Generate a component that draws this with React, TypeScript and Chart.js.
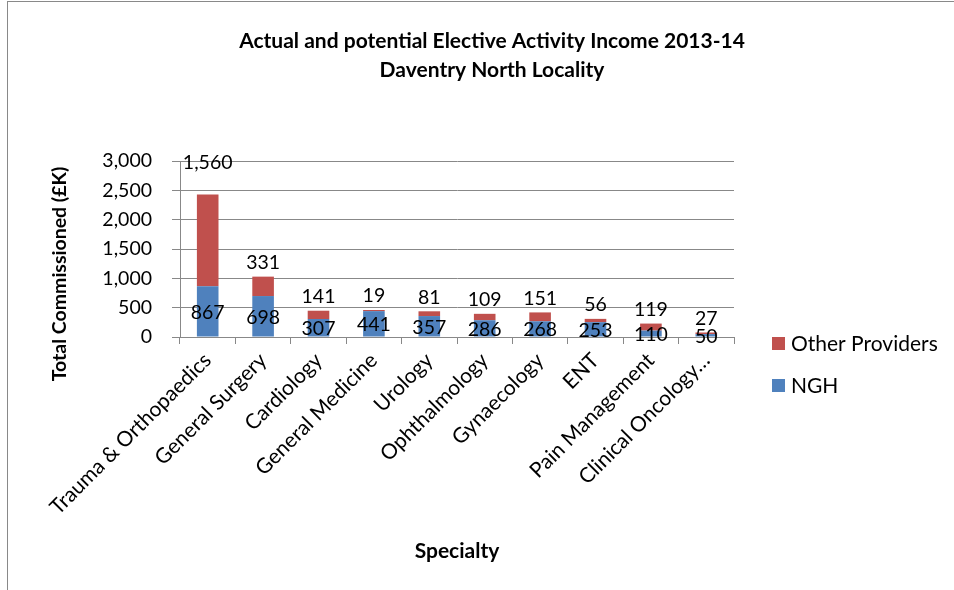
import { useEffect, useRef } from "react";
import { Chart, registerables } from "chart.js";

Chart.register(...registerables);

const categories = [
  "Trauma & Orthopaedics",
  "General Surgery",
  "Cardiology",
  "General Medicine",
  "Urology",
  "Ophthalmology",
  "Gynaecology",
  "ENT",
  "Pain Management",
  "Clinical Oncology…",
];
const nghValues = [867, 698, 307, 441, 357, 286, 268, 253, 110, 50];
const otherValues = [1560, 331, 141, 19, 81, 109, 151, 56, 119, 27];
const yTickValues = [0, 500, 1000, 1500, 2000, 2500, 3000];
const seriesNames = ["NGH", "Other Providers"];
const seriesColors = ["#4F81BD", "#C0504D"];
const titleLines = [
  "Actual and potential Elective Activity Income 2013-14",
  "Daventry North Locality",
];
const yAxisTitle = "Total Commissioned (£K)";
const xAxisTitle = "Specialty";

const FONT = "Lato, 'Open Sans', sans-serif";
const fmt = (v: number) => v.toLocaleString("en-US");

const decorPlugin = {
  id: "decor",
  beforeDraw(chart: any) {
    const ctx = chart.ctx;
    ctx.save();
    ctx.fillStyle = "#ffffff";
    ctx.fillRect(0, 0, chart.width, chart.height);
    ctx.strokeStyle = "#898989";
    ctx.lineWidth = 1;
    ctx.strokeRect(7.5, 1.5, chart.width + 20, chart.height + 20);
    ctx.restore();
  },
  afterDatasetsDraw(chart: any) {
    const ctx = chart.ctx;
    const ca = chart.chartArea;
    const m0 = chart.getDatasetMeta(0);
    const m1 = chart.getDatasetMeta(1);
    ctx.save();
    ctx.fillStyle = "#000";
    ctx.font = `19.5px ${FONT}`;
    ctx.textAlign = "center";
    ctx.textBaseline = "middle";
    m0.data.forEach((bar: any, i: number) => {
      ctx.fillText(fmt(nghValues[i]), bar.x, (bar.y + bar.base) / 2 + 1);
    });
    m1.data.forEach((bar: any, i: number) => {
      let y = bar.y - 14;
      if (bar.y - ca.top < 50) y = ca.top + 2;
      ctx.fillText(fmt(otherValues[i]), bar.x, y);
    });
    ctx.restore();
  },
  afterDraw(chart: any) {
    const ctx = chart.ctx;
    const ca = chart.chartArea;
    ctx.save();
    ctx.fillStyle = "#000";
    ctx.textAlign = "center";
    ctx.textBaseline = "middle";
    ctx.font = `bold 21px ${FONT}`;
    ctx.fillText(titleLines[0], 492, 41);
    ctx.fillText(titleLines[1], 492, 70);
    ctx.font = `bold 19.5px ${FONT}`;
    ctx.save();
    ctx.translate(60, 274);
    ctx.rotate(-Math.PI / 2);
    ctx.fillText(yAxisTitle, 0, 0);
    ctx.restore();
    ctx.font = `bold 21px ${FONT}`;
    ctx.fillText(xAxisTitle, (ca.left + ca.right) / 2, 551);
    // legend (stack order: top series first)
    ctx.font = `21px ${FONT}`;
    ctx.textAlign = "left";
    const legendOrder = [1, 0];
    legendOrder.forEach((si, k) => {
      const cy = 343 + k * 42;
      ctx.fillStyle = seriesColors[si];
      ctx.fillRect(772, cy - 6, 13, 13);
      ctx.fillStyle = "#000";
      ctx.fillText(seriesNames[si], 791, cy + 1);
    });
    ctx.restore();
  },
};

export default function App() {
  const ref = useRef<HTMLCanvasElement | null>(null);
  useEffect(() => {
    if (!ref.current) return;
    const chart = new Chart(ref.current, {
      type: "bar",
      data: {
        labels: categories,
        datasets: [
          {
            label: seriesNames[0],
            data: nghValues,
            backgroundColor: seriesColors[0],
            categoryPercentage: 1,
            barPercentage: 0.39,
          },
          {
            label: seriesNames[1],
            data: otherValues,
            backgroundColor: seriesColors[1],
            categoryPercentage: 1,
            barPercentage: 0.39,
          },
        ],
      },
      options: {
        responsive: false,
        animation: false,
        layout: { padding: { left: 0, top: 161, right: 220, bottom: 0 } },
        plugins: {
          legend: { display: false },
          title: { display: false },
          tooltip: { enabled: false },
        },
        scales: {
          x: {
            stacked: true,
            grid: {
              offset: true,
              drawOnChartArea: false,
              drawTicks: true,
              tickLength: 7,
              color: "#888888",
            },
            border: { color: "#888888" },
            ticks: {
              autoSkip: false,
              maxRotation: 45,
              minRotation: 45,
              padding: 4,
              color: "#000",
              font: { family: FONT, size: 21 },
            },
            afterFit(scale: any) {
              scale.height = 590 - 337;
            },
          },
          y: {
            stacked: true,
            min: 0,
            max: 3000,
            afterBuildTicks(scale: any) {
              scale.ticks = yTickValues.map((v) => ({ value: v }));
            },
            grid: { color: "#888888", tickLength: 8 },
            border: { color: "#888888" },
            ticks: {
              padding: 20,
              color: "#000",
              font: { family: FONT, size: 19.5 },
              callback: (v: any) => fmt(Number(v)),
            },
            afterFit(scale: any) {
              scale.width = 180;
            },
          },
        },
      },
      plugins: [decorPlugin],
    });
    return () => chart.destroy();
  }, []);
  return (
    <canvas
      ref={ref}
      width={954}
      height={590}
      style={{ position: "absolute", left: 0, top: 0, display: "block" }}
    />
  );
}
